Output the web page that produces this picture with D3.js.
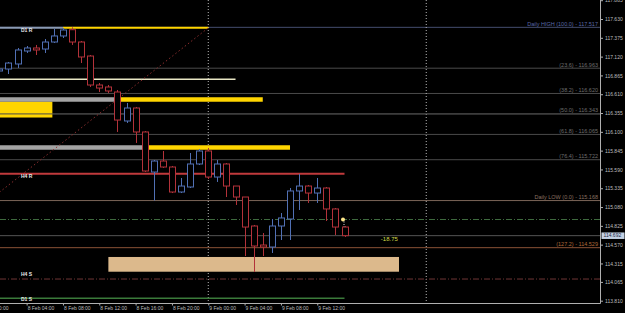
<!DOCTYPE html>
<html>
<head>
<meta charset="utf-8">
<script src="https://cdn.jsdelivr.net/npm/d3@7"></script>
<style>
html, body { margin: 0; padding: 0; background: #000; }
svg { display: block; font-family: "Liberation Sans", Arial, sans-serif; }
</style>
</head>
<body>
<svg id="svg"></svg>
<script>
// USDJPY H1, 8-9 Feb 2016
var times = [
  "2016-02-08 01:00", "2016-02-08 02:00", "2016-02-08 03:00", "2016-02-08 04:00",
  "2016-02-08 05:00", "2016-02-08 06:00", "2016-02-08 07:00", "2016-02-08 08:00",
  "2016-02-08 09:00", "2016-02-08 10:00", "2016-02-08 11:00", "2016-02-08 12:00",
  "2016-02-08 13:00", "2016-02-08 14:00", "2016-02-08 15:00", "2016-02-08 16:00",
  "2016-02-08 17:00", "2016-02-08 18:00", "2016-02-08 19:00", "2016-02-08 20:00",
  "2016-02-08 21:00", "2016-02-08 22:00", "2016-02-08 23:00", "2016-02-09 00:00",
  "2016-02-09 01:00", "2016-02-09 02:00", "2016-02-09 03:00", "2016-02-09 04:00",
  "2016-02-09 05:00", "2016-02-09 06:00", "2016-02-09 07:00", "2016-02-09 08:00",
  "2016-02-09 09:00", "2016-02-09 10:00", "2016-02-09 11:00", "2016-02-09 12:00",
  "2016-02-09 13:00", "2016-02-09 14:00", "2016-02-09 15:00"
];
var open = [
  116.925, 116.952, 117.020, 117.196, 117.237, 117.223, 117.318, 117.400,
  117.485, 117.318, 117.128, 116.735, 116.708, 116.640, 116.247, 116.423,
  116.098, 115.555, 115.704, 115.623, 115.284, 115.352, 115.664, 115.840,
  115.487, 115.664, 115.365, 115.216, 114.823, 114.565, 114.538, 114.823,
  114.918, 115.298, 115.365, 115.270, 115.338, 115.054, 114.809
];
var high = [
  116.966, 117.047, 117.237, 117.264, 117.278, 117.359, 117.495, 117.508,
  117.517, 117.332, 117.142, 116.762, 116.735, 116.667, 116.491, 116.437,
  116.111, 115.718, 115.840, 115.637, 115.474, 115.813, 115.867, 115.881,
  115.718, 115.677, 115.365, 115.216, 114.837, 114.728, 114.918, 114.999,
  115.338, 115.528, 115.379, 115.474, 115.352, 115.067, 114.823
];
var low = [
  116.911, 116.884, 116.966, 117.169, 117.142, 117.169, 117.305, 117.372,
  117.278, 117.033, 116.708, 116.640, 116.627, 116.098, 116.220, 115.949,
  115.555, 115.168, 115.610, 115.270, 115.270, 115.338, 115.650, 115.460,
  115.420, 115.216, 115.108, 114.416, 114.199, 114.416, 114.457, 114.633,
  114.633, 115.040, 115.135, 115.135, 114.891, 114.701, 114.674
];
var close = [
  116.952, 117.033, 117.210, 117.237, 117.210, 117.318, 117.400, 117.481,
  117.318, 117.115, 116.735, 116.694, 116.654, 116.260, 116.423, 116.098,
  115.569, 115.704, 115.623, 115.284, 115.365, 115.664, 115.840, 115.487,
  115.664, 115.365, 115.216, 114.809, 114.552, 114.538, 114.823, 114.932,
  115.298, 115.365, 115.270, 115.338, 115.054, 114.809, 114.692
];

var priceTicks = [117.885, 117.630, 117.375, 117.120, 116.865, 116.610, 116.355, 116.100,
  115.845, 115.590, 115.335, 115.080, 114.825, 114.570, 114.315, 114.065, 113.810];
var timeTicks = ["2016-02-08 00:00", "2016-02-08 04:00", "2016-02-08 08:00", "2016-02-08 12:00",
  "2016-02-08 16:00", "2016-02-08 20:00", "2016-02-09 00:00", "2016-02-09 04:00",
  "2016-02-09 08:00", "2016-02-09 12:00"];

// daily fibo
var fibPrices = [117.517, 116.963, 116.620, 116.343, 116.065, 115.722, 115.168, 114.529];
var fibLabels = ["Daily HIGH (100.0) - 117.517", "(23.6) - 116.963", "(38.2) - 116.620",
  "(50.0) - 116.343", "(61.8) - 116.065", "(76.4) - 115.722", "Daily LOW (0.0) - 115.168",
  "(127.2) - 114.529"];

// support / resistance lines
var srNames = ["D1 R", "H4 R", "H4 S", "D1 S"];
var srPrices = [117.510, 115.531, 114.203, 113.843];
var srEnd = ["2016-02-08 08:00", "2016-02-09 15:00", "2016-02-09 21:00", "2016-02-09 15:00"];

// zone segments: [start, end, price]
var grayBars = [["2016-02-08 00:00", "2016-02-08 13:45", 116.539], ["2016-02-08 00:00", "2016-02-08 16:45", 115.888]];
var yellowBars = [["2016-02-08 08:00", "2016-02-09 00:00", 117.510], ["2016-02-08 14:15", "2016-02-09 06:00", 116.539], ["2016-02-08 17:20", "2016-02-09 09:00", 115.888]];
var creamLine = ["2016-02-08 00:00", "2016-02-09 03:00", 116.812];
var yellowBox = ["2016-02-08 00:00", "2016-02-08 06:50", 116.511, 116.294];
var h4sBox = ["2016-02-08 13:00", "2016-02-09 21:00", 114.403, 114.203];
var trendLine = [["2016-02-08 01:00", 115.28], ["2016-02-09 00:00", 117.51]];
var dashGreen = 114.911, dashRed = 114.104;
var bid = 114.692;
var pipsText = "-18.75";
var separators = ["2016-02-09 00:00", "2016-02-10 00:00"];

var parse = d3.timeParse("%Y-%m-%d %H:%M");
var W = 625, H = 313, axisX = 600, axisY = 303;

var x = d3.scaleTime()
  .domain([new Date(2016, 1, 8, 1, 4), new Date(2016, 1, 10, 19, 8)])
  .range([0, axisX]);
var y = d3.scaleLinear()
  .domain([113.81, 117.885])
  .range([300.7, 0.2]);

var s = d3.select('#svg').attr('width', W).attr('height', H);
s.append('rect').attr('width', W).attr('height', H).attr('fill', '#000');

var g = s.append('g');
var clip = s.append('clipPath').attr('id', 'plot').append('rect')
  .attr('width', axisX).attr('height', axisY);
g.attr('clip-path', 'url(#plot)');

function hline(t0, t1, p, color, w, dash) {
  var l = g.append('line')
    .attr('x1', t0 == null ? 0 : x(parse(t0)))
    .attr('x2', t1 == null ? axisX : x(parse(t1)))
    .attr('y1', y(p)).attr('y2', y(p))
    .attr('stroke', color).attr('stroke-width', w);
  if (dash) l.attr('stroke-dasharray', dash);
  return l;
}

// fibo lines
var fibColors = ['#444c6e', '#4a4a4a', '#4a4a4a', '#4a4a4a', '#4a4a4a', '#4a4a4a', '#7a6458', '#8a5236'];
var fibText = ['#5a68a8', '#6e6e6e', '#6e6e6e', '#6e6e6e', '#6e6e6e', '#6e6e6e', '#8a7060', '#b06a3a'];
fibPrices.forEach(function (p, i) { hline(null, null, p, fibColors[i], 1); });

// period separators
separators.forEach(function (t) {
  g.append('line')
    .attr('x1', x(parse(t))).attr('x2', x(parse(t)))
    .attr('y1', 0).attr('y2', axisY)
    .attr('stroke', '#b8b8b8').attr('stroke-width', 1).attr('stroke-dasharray', '1,2');
});

// dash-dot and bid lines
hline(null, null, dashGreen, '#3e6a3e', 1, '6,2,1,2');
hline(null, null, dashRed, '#6e3434', 1, '6,2,1,2');
hline(null, null, bid, '#555', 1);

// zones
g.append('rect')
  .attr('x', x(parse(yellowBox[0]))).attr('width', x(parse(yellowBox[1])) - x(parse(yellowBox[0])))
  .attr('y', y(yellowBox[2])).attr('height', y(yellowBox[3]) - y(yellowBox[2]))
  .attr('fill', '#ffd500');
hline(null, null, fibPrices[3], '#4a4a4a', 1);
g.append('rect')
  .attr('x', x(parse(h4sBox[0]))).attr('width', x(parse(h4sBox[1])) - x(parse(h4sBox[0])))
  .attr('y', y(h4sBox[2])).attr('height', y(h4sBox[3]) - y(h4sBox[2]))
  .attr('fill', '#dcb98c');

grayBars.forEach(function (b) { hline(null, b[1], b[2], '#a4a4a4', 4.5); });
yellowBars.forEach(function (b, i) { hline(b[0], b[1], b[2], '#ffd500', i == 0 ? 2 : 4.5); });
hline(null, srEnd[0], srPrices[0], '#8a9ab4', 2);
hline(null, creamLine[1], creamLine[2], '#e8e6c4', 1.5);
hline(null, srEnd[1], srPrices[1], '#c03a3c', 2);
hline(null, srEnd[3], srPrices[3], '#3a7a3a', 1.5);

// trend line
g.append('line')
  .attr('x1', x(parse(trendLine[0][0]))).attr('y1', y(trendLine[0][1]))
  .attr('x2', x(parse(trendLine[1][0]))).attr('y2', y(trendLine[1][1]))
  .attr('stroke', '#8a2e2e').attr('stroke-width', 1).attr('stroke-dasharray', '1.5,2.5');

// candles
var data = times.map(function (t, i) {
  return { t: parse(t), o: open[i], h: high[i], l: low[i], c: close[i] };
});
var up = '#5170b4', dn = '#b3323a';
var cg = g.append('g').selectAll('g').data(data).enter().append('g');
cg.append('line')
  .attr('x1', function (d) { return Math.round(x(d.t)) + 0.5; })
  .attr('x2', function (d) { return Math.round(x(d.t)) + 0.5; })
  .attr('y1', function (d) { return y(d.h); })
  .attr('y2', function (d) { return y(d.l); })
  .attr('stroke', function (d) { return d.c >= d.o ? up : dn; });
cg.append('rect')
  .attr('x', function (d) { return Math.round(x(d.t)) - 2.5; })
  .attr('width', 6)
  .attr('y', function (d) { return y(Math.max(d.o, d.c)); })
  .attr('height', function (d) { return Math.max(1, Math.abs(y(d.o) - y(d.c))); })
  .attr('fill', '#000')
  .attr('stroke', function (d) { return d.c >= d.o ? up : dn; });

// last price marker
var last = data[data.length - 1];
g.append('line')
  .attr('x1', x(last.t) - 0.5).attr('x2', x(last.t) - 0.5)
  .attr('y1', y(dashGreen) + 2).attr('y2', y(last.o))
  .attr('stroke', '#ddd').attr('stroke-dasharray', '1,1.5');
g.append('circle')
  .attr('cx', x(last.t) - 1.5).attr('cy', y(dashGreen))
  .attr('r', 2).attr('fill', '#ffe68a');

// texts in plot
var tg = s.append('g');
fibLabels.forEach(function (lab, i) {
  tg.append('text').attr('x', 598).attr('y', y(fibPrices[i]) - 1.5)
    .attr('text-anchor', 'end').attr('font-size', 5.5).attr('fill', fibText[i]).text(lab);
});
var srDy = [4.5, 3.8, 4.2, 2.4];
srNames.forEach(function (n, i) {
  tg.append('text').attr('x', 21).attr('y', y(srPrices[i]) + srDy[i])
    .attr('font-size', 5).attr('font-weight', 'bold').attr('fill', '#e8e8e8').text(n);
});
tg.append('text').attr('x', x(parse("2016-02-09 19:00"))).attr('y', y(bid) + 5.3)
  .attr('font-size', 6).attr('fill', '#d4dc48').text(pipsText);

// axes
s.append('line').attr('x1', axisX + 0.5).attr('x2', axisX + 0.5).attr('y1', 0).attr('y2', axisY + 0.5)
  .attr('stroke', '#b0b0b0');
s.append('line').attr('x1', 0).attr('x2', axisX + 0.5).attr('y1', axisY + 0.5).attr('y2', axisY + 0.5)
  .attr('stroke', '#b0b0b0');

var ay = s.append('g').attr('transform', 'translate(' + (axisX + 0.5) + ',0)')
  .call(d3.axisRight(y).tickValues(priceTicks).tickFormat(d3.format('.3f')).tickSize(2.5).tickPadding(2));
ay.select('.domain').remove();
ay.selectAll('line').attr('stroke', '#b0b0b0');
ay.selectAll('text').attr('fill', '#bdbdbd').attr('font-size', 5).attr('font-family', '"Liberation Sans", Arial, sans-serif');

var ax = s.append('g').attr('transform', 'translate(0,' + (axisY + 0.5) + ')')
  .call(d3.axisBottom(x).tickValues(timeTicks.map(parse)).tickFormat(d3.timeFormat('%-d %b %H:%M')).tickSize(2).tickPadding(1));
ax.select('.domain').remove();
ax.selectAll('line').attr('stroke', '#b0b0b0');
ax.selectAll('text').attr('fill', '#bdbdbd').attr('font-size', 5).attr('text-anchor', 'start')
  .attr('dx', function (d, i) { return i == 0 ? -9 : 0.5; })
  .attr('font-family', '"Liberation Sans", Arial, sans-serif');

// bid box
s.append('rect').attr('x', axisX + 1.5).attr('y', y(bid) - 3.2).attr('width', 23).attr('height', 6.5)
  .attr('fill', '#c4d2e4');
s.append('text').attr('x', axisX + 3.5).attr('y', y(bid) + 1.8)
  .attr('font-size', 5).attr('fill', '#1c2440').text(d3.format('.3f')(bid));
</script>
</body>
</html>
